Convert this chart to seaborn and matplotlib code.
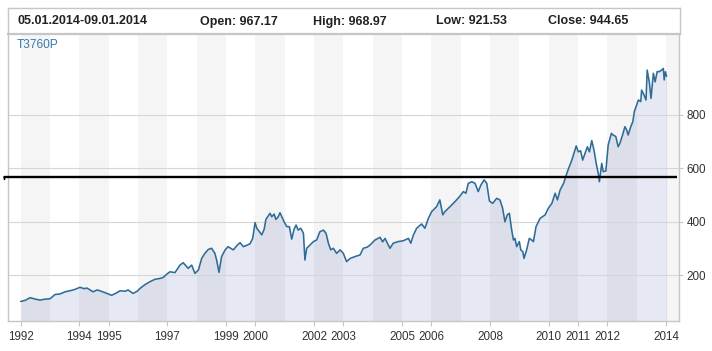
"""Weekly index chart: T3760P, 1992-2014, with a hand-drawn support line."""
import matplotlib
matplotlib.use('Agg')
import matplotlib.pyplot as plt
import pandas as pd
import seaborn as sns

# decimal year / close values
YEARS = [
    1992.00, 1992.15, 1992.32, 1992.49, 1992.66, 1992.79, 1993.00, 1993.17, 1993.34, 1993.51,
    1993.68, 1993.85, 1994.02, 1994.16, 1994.26, 1994.47, 1994.60, 1994.70, 1994.87, 1995.10,
    1995.25, 1995.39, 1995.56, 1995.66, 1995.83, 1995.97, 1996.07, 1996.24, 1996.41, 1996.58,
    1996.75, 1996.86, 1996.99, 1997.09, 1997.26, 1997.43, 1997.54, 1997.71, 1997.83, 1997.94,
    1998.06, 1998.17, 1998.28, 1998.40, 1998.51, 1998.62, 1998.68, 1998.76, 1998.85, 1998.97,
    1999.07, 1999.25, 1999.38, 1999.48, 1999.59, 1999.71, 1999.82, 1999.91, 1999.99, 2000.05,
    2000.14, 2000.22, 2000.30, 2000.36, 2000.50, 2000.56, 2000.64, 2000.70, 2000.78, 2000.84,
    2000.93, 2000.98, 2001.07, 2001.16, 2001.24, 2001.32, 2001.39, 2001.46, 2001.55, 2001.64,
    2001.69, 2001.75, 2001.86, 2001.98, 2002.09, 2002.20, 2002.32, 2002.41, 2002.49, 2002.57,
    2002.66, 2002.77, 2002.89, 2003.00, 2003.11, 2003.23, 2003.40, 2003.57, 2003.68, 2003.81,
    2003.91, 2004.08, 2004.25, 2004.34, 2004.42, 2004.59, 2004.70, 2004.87, 2005.04, 2005.22,
    2005.30, 2005.39, 2005.50, 2005.67, 2005.78, 2005.90, 2006.01, 2006.18, 2006.29, 2006.39,
    2006.46, 2006.58, 2006.75, 2006.86, 2006.98, 2007.09, 2007.18, 2007.26, 2007.38, 2007.49,
    2007.60, 2007.69, 2007.80, 2007.89, 2007.98, 2008.09, 2008.23, 2008.34, 2008.43, 2008.51,
    2008.59, 2008.66, 2008.74, 2008.80, 2008.85, 2008.91, 2009.00, 2009.05, 2009.12, 2009.16,
    2009.25, 2009.34, 2009.42, 2009.48, 2009.57, 2009.71, 2009.88, 2009.99, 2010.11, 2010.22,
    2010.30, 2010.39, 2010.51, 2010.60, 2010.68, 2010.79, 2010.94, 2011.01, 2011.09, 2011.16,
    2011.24, 2011.32, 2011.39, 2011.47, 2011.55, 2011.62, 2011.69, 2011.73, 2011.81, 2011.86,
    2011.95, 2012.03, 2012.14, 2012.20, 2012.29, 2012.37, 2012.43, 2012.52, 2012.60, 2012.66,
    2012.71, 2012.80, 2012.87, 2012.92, 2013.00, 2013.06, 2013.14, 2013.17, 2013.25, 2013.32,
    2013.36, 2013.43, 2013.49, 2013.57, 2013.63, 2013.70, 2013.77, 2013.85, 2013.91, 2013.94,
    2013.98, 2014.02,
]
CLOSE = [
    102, 106, 116, 111, 107, 110, 112, 128, 130, 138,
    142, 147, 155, 150, 152, 138, 145, 142, 135, 125,
    133, 142, 140, 145, 132, 140, 151, 165, 176, 185,
    188, 192, 205, 213, 210, 238, 247, 226, 238, 207,
    220, 263, 282, 297, 301, 282, 257, 211, 270, 295,
    307, 295, 312, 322, 307, 312, 318, 338, 397, 376,
    363, 351, 372, 409, 432, 419, 429, 409, 419, 434,
    413, 400, 382, 382, 335, 372, 388, 369, 376, 357,
    257, 301, 313, 326, 332, 363, 369, 357, 320, 295,
    301, 282, 295, 282, 251, 263, 270, 276, 301, 305,
    313, 332, 342, 325, 338, 301, 320, 326, 329, 338,
    320, 351, 376, 392, 376, 413, 438, 457, 482, 426,
    438, 451, 469, 482, 497, 513, 507, 544, 550, 544,
    513, 538, 557, 544, 478, 469, 488, 482, 451, 400,
    426, 432, 369, 332, 338, 307, 326, 295, 288, 263,
    295, 338, 332, 326, 382, 413, 426, 451, 469, 507,
    482, 519, 544, 575, 600, 631, 684, 662, 666, 631,
    656, 681, 662, 704, 666, 619, 582, 550, 619, 588,
    590, 688, 731, 725, 719, 681, 694, 725, 756, 744,
    725, 756, 775, 812, 837, 856, 850, 893, 875, 856,
    968, 924, 862, 956, 924, 962, 962, 968, 974, 931,
    962, 945,
]

TICK_YEARS = [1992, 1994, 1995, 1997, 1999, 2000, 2002, 2003, 2005, 2006,
              2008, 2010, 2011, 2012, 2014]
Y_TICKS = [200, 400, 600, 800]
SUPPORT_LEVEL = 568
SYMBOL = 'T3760P'
HEADER = ['05.01.2014-09.01.2014', 'Open: 967.17', 'High: 968.97',
          'Low: 921.53', 'Close: 944.65']
HEADER_X = [17, 200, 313, 436, 548]

W, H = 712, 351
FRAME = '#c6c6c6'
LINE = '#2e6c97'
FILL = '#e6e9f4'


def box(x0, y0, x1, y1):
    """Pixel box (top-left origin) -> figure fraction rect."""
    return [x0 / W, 1 - y1 / H, (x1 - x0) / W, (y1 - y0) / H]


sns.set_theme(style='white')
plt.rcParams['font.family'] = ['Liberation Sans', 'DejaVu Sans']

fig = plt.figure(figsize=(W / 100, H / 100), dpi=100)
ax = fig.add_axes(box(8, 34, 679, 321))
hdr = fig.add_axes(box(8, 8, 680, 34))

df = pd.DataFrame({'year': YEARS, 'close': CLOSE})

ax.fill_between(df['year'], df['close'], 0, color=FILL, lw=0, zorder=0.5)
# alternating year bands: faint dark overlay on even years
for y0 in range(1992, 2016, 2):
    ax.axvspan(y0, y0 + 1, color='black', alpha=0.04, lw=0, zorder=1)

sns.lineplot(data=df, x='year', y='close', ax=ax, color=LINE, lw=1.15,
             estimator=None, sort=False, zorder=3)

ax.plot([1991.43, 2014.37], [SUPPORT_LEVEL, SUPPORT_LEVEL], color='black',
        lw=1.7, solid_capstyle='butt', clip_on=False, zorder=5)
ax.plot([1991.43, 1991.45], [SUPPORT_LEVEL, SUPPORT_LEVEL - 9], color='black',
        lw=1.2, clip_on=False, zorder=5)

ax.set_xlim(1991.567, 2014.444)
ax.set_ylim(28.8, 1103)
ax.set_xlabel('')
ax.set_ylabel('')

ax.set_xticks(TICK_YEARS)
ax.set_xticklabels([str(y) for y in TICK_YEARS])
ax.set_yticks(Y_TICKS)
ax.yaxis.tick_right()
ax.tick_params(axis='both', which='both', length=3.5, width=0.8, color=FRAME,
               labelcolor='#333333', labelsize=8.4)
ax.tick_params(axis='x', bottom=True, pad=4)
ax.tick_params(axis='y', right=True, left=False, pad=2.5, length=3)

ax.set_axisbelow(False)
ax.grid(axis='y', color='#d6d6d6', lw=0.8)
ax.grid(axis='x', visible=False)

ax.spines['top'].set_visible(False)
for side in ('left', 'right', 'bottom'):
    ax.spines[side].set_color(FRAME)
    ax.spines[side].set_linewidth(1.0)
    ax.spines[side].set_zorder(2.6)

hdr.set_xticks([])
hdr.set_yticks([])
hdr.set_facecolor('white')
for side in ('left', 'right', 'top'):
    hdr.spines[side].set_color(FRAME)
    hdr.spines[side].set_linewidth(1.0)
hdr.spines['bottom'].set_color(FRAME)
hdr.spines['bottom'].set_linewidth(1.6)

for txt, x in zip(HEADER, HEADER_X):
    fig.text(x / W, 1 - 24.5 / H, txt, ha='left', va='baseline',
             fontsize=9, fontweight='bold', color='#222222')

fig.text(17 / W, 1 - 45 / H, SYMBOL, ha='left', va='center',
         fontsize=8.6, color='#3777aa')

fig.savefig('out.png', dpi=100)
